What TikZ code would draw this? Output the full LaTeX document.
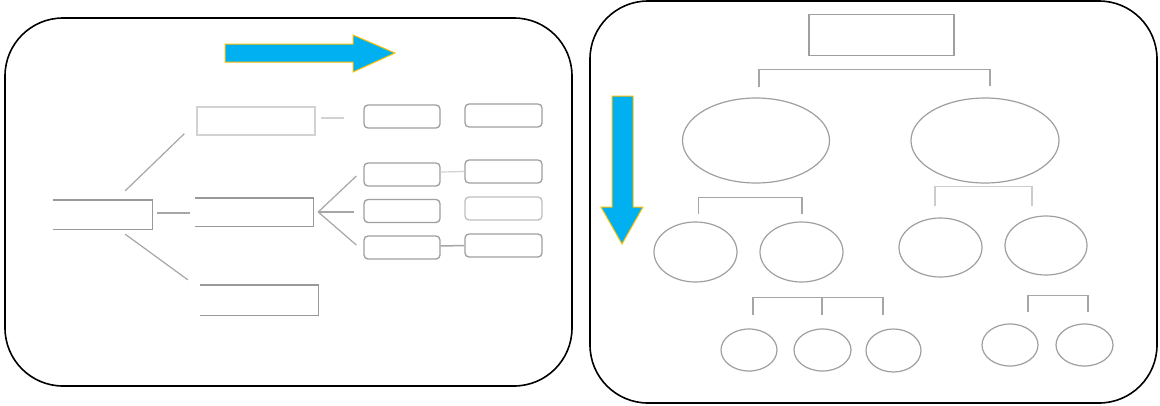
\documentclass[tikz,border=0pt]{standalone}
\usetikzlibrary{calc,shapes.geometric}
\definecolor{arrowblue}{HTML}{00B0F0}
\definecolor{arrowgold}{HTML}{FFC000}
\begin{document}
\begin{tikzpicture}[x=1pt,y=-1pt,
  panel/.style={draw=black,line width=1.6pt,rounded corners=58pt},
  box/.style={draw=gray!75,line width=1.3pt,rectangle,inner sep=0pt},
  openbox/.style={rectangle,inner sep=0pt},
  rbox/.style={draw=gray!75,line width=1.3pt,rectangle,rounded corners=4pt,inner sep=0pt},
  oval/.style={draw=gray!75,line width=1.2pt,ellipse,inner sep=0pt},
  conn/.style={draw=gray!70,line width=1.2pt},
  side/.style={draw=gray!80,line width=1.4pt},
  faint/.style={draw=gray!35,line width=1.2pt},
  bigarrow/.style={fill=arrowblue,draw=arrowgold,line width=1pt,line join=miter}]
\useasboundingbox (0,0) rectangle (1160,405);
\fill[white] (0,0) rectangle (1160,405);
% panels
\draw[panel] (5,18) rectangle (572,386);
\draw[panel] (590,1) rectangle (1157,403);
% arrows
\draw[bigarrow] (225,44) -- (353,44) -- (353,35) -- (395,53) -- (353,72) -- (353,62) -- (225,62) -- cycle;
\draw[bigarrow] (612,96) -- (633,96) -- (633,207) -- (643,207) -- (622,244) -- (601,207) -- (612,207) -- cycle;
% left tree
\node[openbox] (root) at (102.5,214.5) [minimum width=99pt,minimum height=29pt] {};
\node[box,draw=gray!35] (up) at (256,121) [minimum width=118pt,minimum height=28pt] {};
\node[openbox] (mid) at (254,212) [minimum width=118pt,minimum height=28pt] {};
\node[openbox] (low) at (259,300) [minimum width=118pt,minimum height=30pt] {};
\draw[side] (root.north west) -- (root.north east) -- (root.south east) -- (root.south west);
\draw[side] (mid.north west) -- (mid.north east) -- (mid.south east) -- (mid.south west);
\draw[side] (low.north west) -- (low.north east) -- (low.south east) -- (low.south west);
\node[rbox] (a1) at (402,116.5) [minimum width=76pt,minimum height=23pt] {};
\node[rbox] (a2) at (402,174.5) [minimum width=76pt,minimum height=23pt] {};
\node[rbox] (a3) at (402,211) [minimum width=76pt,minimum height=23pt] {};
\node[rbox] (a4) at (402,247.5) [minimum width=76pt,minimum height=23pt] {};
\node[rbox] (b1) at (503.5,115.5) [minimum width=77pt,minimum height=23pt] {};
\node[rbox] (b2) at (503.5,171.5) [minimum width=77pt,minimum height=23pt] {};
\node[rbox,draw=gray!50] (b3) at (503.5,208.5) [minimum width=77pt,minimum height=23pt] {};
\node[rbox] (b4) at (503.5,245.5) [minimum width=77pt,minimum height=23pt] {};
\draw[conn] ($(root.north east)+(-27,-9)$) -- ($(up.south west)+(-12,-2)$);
\draw[conn] ($(root.south east)+(-27,5)$) -- ($(low.north west)+(-12,-5)$);
\draw[conn,line width=1.6pt] (root.east) ++(5,-1.5) -- ($(mid.west)+(-5,1)$);
\draw[faint] (up.east) ++(5,-3) -- ($(a1.west)+(-19,1.5)$);
\draw[conn] (mid.east) ++(5,0) -- ($(a2.west)+(-7,1.5)$);
\draw[conn] (mid.east) ++(5,0) -- ($(a3.west)+(-9,1)$);
\draw[conn] (mid.east) ++(5,0) -- ($(a4.west)+(-7,-2.5)$);
\draw[faint] (a2.east) ++(0,-2.5) -- (b2.west);
\draw[conn,line width=1.5pt] (a4.east) ++(0,-1.5) -- (b4.west);
% right tree
\node[box] (top) at (881.5,35) [minimum width=145pt,minimum height=41pt] {};
\node[oval] (E1) at (756,140.5) [minimum width=147pt,minimum height=85pt] {};
\node[oval] (E2) at (985,140.5) [minimum width=148pt,minimum height=85pt] {};
\node[oval] (F1) at (695.5,252) [minimum width=83pt,minimum height=60pt] {};
\node[oval] (F2) at (801.5,252) [minimum width=83pt,minimum height=60pt] {};
\node[oval] (F3) at (940.5,247.5) [minimum width=83pt,minimum height=59pt] {};
\node[oval] (F4) at (1046,245.5) [minimum width=82pt,minimum height=59pt] {};
\node[oval] (G1) at (749,350) [minimum width=56pt,minimum height=42pt] {};
\node[oval] (G2) at (822.5,350) [minimum width=57pt,minimum height=42pt] {};
\node[oval] (G3) at (893.5,350.5) [minimum width=55pt,minimum height=43pt] {};
\node[oval] (G4) at (1010,345) [minimum width=56pt,minimum height=42pt] {};
\node[oval] (G5) at (1084.5,345) [minimum width=57pt,minimum height=42pt] {};
% brackets
\draw[conn] ($(E1.north)+(3,-10)$) |- ($(E2.north)+(5,-28)$) -- ($(E2.north)+(5,-11)$);
\draw[conn] ($(F1.north)+(3,-7)$) |- ($(F2.north)+(0.5,-24)$) -- ($(F2.north)+(0.5,-7)$);
\draw[conn,draw=gray!40] ($(F3.north)+(-5.5,-11)$) |- ($(F4.north)+(-14,-29)$) -- ($(F4.north)+(-14,-9)$);
\draw[conn] ($(G1.north)+(4,-13)$) |- ($(G3.north)+(-10.5,-31)$) -- ($(G3.north)+(-10.5,-13)$);
\draw[conn] ($(G2.north)+(-0.5,-31)$) -- ($(G2.north)+(-0.5,-13)$);
\draw[conn] ($(G4.north)+(18,-11)$) |- ($(G5.north)+(3.5,-28)$) -- ($(G5.north)+(3.5,-11)$);
\end{tikzpicture}
\end{document}
